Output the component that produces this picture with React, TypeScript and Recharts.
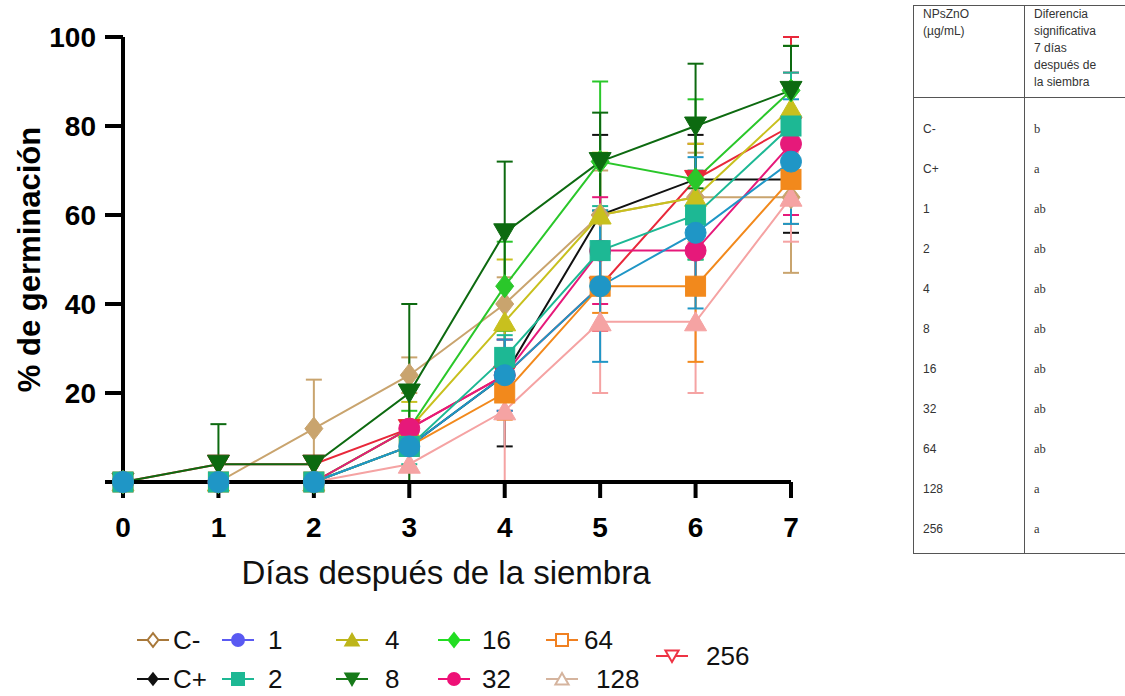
import React from 'react';
import { LineChart, Line, XAxis, YAxis, ErrorBar, Label } from 'recharts';

// días después de la siembra
const days = [0, 1, 2, 3, 4, 5, 6, 7];

// % de germinación por tratamiento (NPsZnO µg/mL)
const cNeg = [0, 0, 12, 24, 40, 60, 64, 64];
const cPos = [0, 0, 0, 8, 24, 60, 68, 68];
const d1 = [0, 0, 0, 8, 24, 44, 56, 72];
const d2 = [0, 0, 0, 8, 28, 52, 60, 80];
const d4 = [0, 0, 0, 12, 36, 60, 64, 84];
const d8 = [0, 4, 4, 20, 56, 72, 80, 88];
const d16 = [0, 0, 0, 12, 44, 72, 68, 88];
const d32 = [0, 0, 0, 12, 24, 52, 52, 76];
const d64 = [0, 0, 0, 8, 20, 44, 44, 68];
const d128 = [0, 0, 0, 4, 16, 36, 36, 64];
const d256 = [0, 4, 4, 12, 24, 44, 68, 80];

// desviación estándar (null = sin barra; [abajo, arriba] cuando la barra se corta en 0)
const cNegErr = [null, null, 11, 4, 6, 10, 10, 17];
const cPosErr = [null, null, null, null, 16, 18, 10, 12];
const d1Err = [null, null, null, null, 8, 17, 17, 14];
const d2Err = [null, null, null, 4, 5, 10, 10, 12];
const d4Err = [null, null, null, 6, 14, 14, 12, 14];
const d8Err = [null, [4, 9], null, 20, 16, 11, 14, 10];
const d16Err = [null, null, null, 4, 10, 18, 18, 10];
const d32Err = [null, null, null, null, 8, 12, 8, 16];
const d64Err = [null, null, null, null, 6, 6, 17, 10];
const d128Err = [null, null, null, 4, 16, 16, 16, 10];
const d256Err = [null, null, null, null, 6, 10, 8, 20];

const yTicks = [0, 20, 40, 60, 80, 100];

// tabla de diferencias significativas a los 7 días
const tableDoses = ['C-', 'C+', '1', '2', '4', '8', '16', '32', '64', '128', '256'];
const tableLetters = ['b', 'a', 'ab', 'ab', 'ab', 'ab', 'ab', 'ab', 'ab', 'a', 'a'];

type Shape = 'diamond' | 'circle' | 'square' | 'triUp' | 'triDown';

const series = [
  { key: 'cneg', name: 'C-', values: cNeg, errors: cNegErr, color: '#C9A46E', legend: '#A8783A', shape: 'diamond' as Shape, size: 20, open: true },
  { key: 'cpos', name: 'C+', values: cPos, errors: cPosErr, color: '#111111', legend: '#111111', shape: 'diamond' as Shape, size: 9, open: false },
  { key: 'd1', name: '1', values: d1, errors: d1Err, color: '#1F96C6', legend: '#5A5AF2', shape: 'circle' as Shape, size: 21, open: false },
  { key: 'd2', name: '2', values: d2, errors: d2Err, color: '#1DB894', legend: '#1DB894', shape: 'square' as Shape, size: 20, open: false },
  { key: 'd4', name: '4', values: d4, errors: d4Err, color: '#C8C01E', legend: '#BDB51A', shape: 'triUp' as Shape, size: 20, open: false },
  { key: 'd8', name: '8', values: d8, errors: d8Err, color: '#0D6A10', legend: '#177A1A', shape: 'triDown' as Shape, size: 20, open: false },
  { key: 'd16', name: '16', values: d16, errors: d16Err, color: '#2AC72A', legend: '#22DD22', shape: 'diamond' as Shape, size: 20, open: false },
  { key: 'd32', name: '32', values: d32, errors: d32Err, color: '#E6197A', legend: '#EE1177', shape: 'circle' as Shape, size: 21, open: false },
  { key: 'd64', name: '64', values: d64, errors: d64Err, color: '#F2891C', legend: '#F08020', shape: 'square' as Shape, size: 20, open: true },
  { key: 'd128', name: '128', values: d128, errors: d128Err, color: '#F5A3A3', legend: '#D5B49E', shape: 'triUp' as Shape, size: 20, open: true },
  { key: 'd256', name: '256', values: d256, errors: d256Err, color: '#E8283A', legend: '#EE3344', shape: 'triDown' as Shape, size: 20, open: true },
];

const drawOrder = ['C-', 'C+', '256', '128', '4', '16', '8', '32', '64', '2', '1'];

const data = days.map((day, i) => {
  const row: Record<string, any> = { day };
  series.forEach((s) => {
    row[s.key] = s.values[i];
    row[s.key + 'Err'] = s.errors[i];
  });
  return row;
});

function Marker({ shape, cx, cy, size, fill, stroke, sw = 1 }: { shape: Shape; cx: number; cy: number; size: number; fill: string; stroke: string; sw?: number }) {
  const h = size / 2;
  if (shape === 'circle') return <circle cx={cx} cy={cy} r={h} fill={fill} stroke={stroke} strokeWidth={sw} />;
  if (shape === 'square') return <rect x={cx - h} y={cy - h} width={size} height={size} fill={fill} stroke={stroke} strokeWidth={sw} />;
  if (shape === 'diamond')
    return <polygon points={`${cx},${cy - h * 1.15} ${cx + h * 0.9},${cy} ${cx},${cy + h * 1.15} ${cx - h * 0.9},${cy}`} fill={fill} stroke={stroke} strokeWidth={sw} />;
  if (shape === 'triUp')
    return <polygon points={`${cx},${cy - h} ${cx + h * 1.1},${cy + h * 0.9} ${cx - h * 1.1},${cy + h * 0.9}`} fill={fill} stroke={stroke} strokeWidth={sw} />;
  return <polygon points={`${cx - h * 1.1},${cy - h * 0.9} ${cx + h * 1.1},${cy - h * 0.9} ${cx},${cy + h}`} fill={fill} stroke={stroke} strokeWidth={sw} />;
}

const axisFont = { fontFamily: 'Liberation Sans, Arial, sans-serif', fontWeight: 700, fontSize: 28, fill: '#000' };

// posiciones de la leyenda (icono, texto)
const legendPos: Record<string, { x: number; y: number; tx: number }> = {
  'C-': { x: 137, y: 640, tx: 173 },
  '1': { x: 222, y: 640, tx: 268 },
  '4': { x: 336, y: 640, tx: 385 },
  '16': { x: 438, y: 640, tx: 482 },
  '64': { x: 546, y: 640, tx: 584 },
  '256': { x: 656, y: 656, tx: 706 },
  'C+': { x: 137, y: 679, tx: 173 },
  '2': { x: 222, y: 679, tx: 268 },
  '8': { x: 336, y: 679, tx: 385 },
  '32': { x: 438, y: 679, tx: 482 },
  '128': { x: 546, y: 679, tx: 596 },
};

function Legend() {
  return (
    <svg width={800} height={96} style={{ position: 'absolute', left: 0, top: 600 }}>
      {series.map((s) => {
        const p = legendPos[s.name];
        const y = p.y - 600;
        return (
          <g key={s.key}>
            <line x1={p.x} x2={p.x + 32} y1={y} y2={y} stroke={s.legend} strokeWidth={2} />
            <Marker shape={s.shape} cx={p.x + 16} cy={y} size={s.name === 'C+' ? 10 : 12} fill={s.open ? '#fff' : s.legend} stroke={s.legend} sw={2} />
            <text x={p.tx} y={y} dy="0.36em" fontFamily="Liberation Sans, Arial, sans-serif" fontSize={26} fill="#111">
              {s.name}
            </text>
          </g>
        );
      })}
    </svg>
  );
}

function SigTable() {
  const border = '1.5px solid #555';
  const sans = 'Liberation Sans, Arial, sans-serif';
  return (
    <div style={{ position: 'absolute', left: 913, top: 5, width: 230, borderTop: border, borderLeft: border, borderBottom: border, fontFamily: sans, fontSize: 12, color: '#333' }}>
      <div style={{ display: 'flex', height: 91, borderBottom: border, lineHeight: '17px' }}>
        <div style={{ width: 111, borderRight: border, padding: '0 0 0 9px', boxSizing: 'border-box' }}>
          NPsZnO
          <br />
          (µg/mL)
        </div>
        <div style={{ padding: '0 0 0 9px' }}>
          Diferencia
          <br />
          significativa
          <br />7 días
          <br />
          después de
          <br />
          la siembra
        </div>
      </div>
      <div style={{ display: 'flex' }}>
        <div style={{ width: 111, borderRight: border, padding: '11px 0 4px 9px', boxSizing: 'border-box' }}>
          {tableDoses.map((d) => (
            <div key={d} style={{ height: 40, lineHeight: '40px' }}>
              {d}
            </div>
          ))}
        </div>
        <div style={{ padding: '11px 0 4px 9px', fontFamily: 'Liberation Serif, serif', fontSize: 12.5 }}>
          {tableLetters.map((l, i) => (
            <div key={i} style={{ height: 40, lineHeight: '40px' }}>
              {l}
            </div>
          ))}
        </div>
      </div>
    </div>
  );
}

export default function App() {
  const ordered = drawOrder.map((n) => series.find((s) => s.name === n)!);
  return (
    <div style={{ position: 'absolute', left: 0, top: 0, width: 1125, height: 696, overflow: 'hidden', background: '#fff' }}>
      <div style={{ position: 'absolute', left: 0, top: 0 }}>
        <LineChart width={830} height={620} data={data} margin={{ top: 37, right: 39, bottom: 0, left: 0 }}>
          <XAxis
            dataKey="day"
            type="number"
            domain={[0, 7]}
            ticks={days}
            axisLine={{ stroke: '#000', strokeWidth: 4 }}
            tickLine={{ stroke: '#000', strokeWidth: 4 }}
            tickSize={16}
            tickMargin={19}
            tick={axisFont}
            height={138}
          >
            <Label value="Días después de la siembra" position="insideBottom" offset={36} dx={-11} style={{ fontFamily: 'Liberation Sans, Arial, sans-serif', fontSize: 33, fill: '#111' }} />
          </XAxis>
          <YAxis
            type="number"
            domain={[0, 100]}
            ticks={yTicks}
            axisLine={{ stroke: '#000', strokeWidth: 4 }}
            tickLine={{ stroke: '#000', strokeWidth: 4 }}
            tickSize={18}
            tickMargin={9}
            tick={axisFont}
            tickFormatter={(v: number) => (v === 0 ? '' : String(v))}
            width={123}
          >
            <Label value="% de germinación" angle={-90} position="center" dx={-33} style={{ fontFamily: 'Liberation Sans, Arial, sans-serif', fontWeight: 700, fontSize: 31, fill: '#000' }} />
          </YAxis>
          {ordered.map((s) => (
            <Line
              key={s.key}
              dataKey={s.key}
              name={s.name}
              type="linear"
              stroke={s.color}
              strokeWidth={2}
              isAnimationActive={false}
              activeDot={false}
              dot={(p: any) => (
                <Marker key={`${s.key}-${p.index}`} shape={s.shape} cx={p.cx} cy={p.cy} size={s.size} fill={s.color} stroke={s.color} />
              )}
            >
              <ErrorBar dataKey={s.key + 'Err'} width={8} strokeWidth={2} stroke={s.color} direction="y" />
            </Line>
          ))}
        </LineChart>
      </div>
      <Legend />
      <SigTable />
    </div>
  );
}
